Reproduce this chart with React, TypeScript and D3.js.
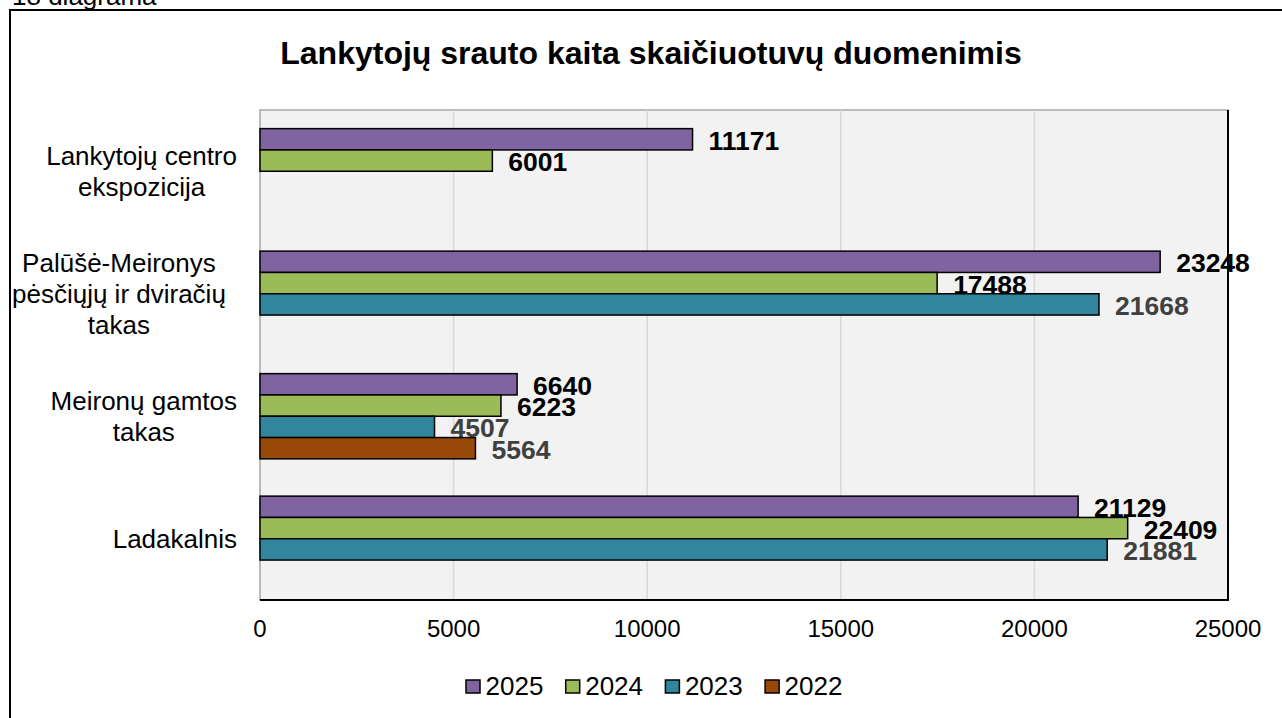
import React from "react";
import * as d3 from "d3";

const categories = [
  ["Lankytojų centro", "ekspozicija"],
  ["Palūšė-Meironys", "pėsčiųjų ir dviračių", "takas"],
  ["Meironų gamtos", "takas"],
  ["Ladakalnis"],
];
const seriesNames = ["2025", "2024", "2023", "2022"];
const values2025 = [11171, 23248, 6640, 21129];
const values2024 = [6001, 17488, 6223, 22409];
const values2023 = [null, 21668, 4507, 21881];
const values2022 = [null, null, 5564, null];
const seriesValues = [values2025, values2024, values2023, values2022];
const seriesColors = ["#8064a2", "#9bbb59", "#31859c", "#984807"];
const labelColors = ["#000000", "#000000", "#404040", "#404040"];
const xTicks = [0, 5000, 10000, 15000, 20000, 25000];
const title = "Lankytojų srauto kaita skaičiuotuvų duomenimis";
const caption = "18 diagrama";

const FONT = "'Liberation Sans', Arial, sans-serif";

function textWidth(t: string, font: string) {
  const c = document.createElement("canvas").getContext("2d")!;
  c.font = font;
  return c.measureText(t).width;
}

export default function App() {
  const W = 1282, H = 718;
  const plot = { left: 260, right: 1228, top: 110, bottom: 600 };
  const x = d3.scaleLinear().domain([0, 25000]).range([plot.left, plot.right]);
  const y = d3.scaleBand<number>().domain(d3.range(categories.length)).range([plot.top, plot.bottom]).padding(0);
  const yInner = d3.scaleBand<number>().domain(d3.range(seriesNames.length)).range([0, y.bandwidth()]).paddingInner(0).paddingOuter(0.875);
  const catFont = `26px ${FONT}`;
  const lineH = 31;

  return (
    <svg width={W} height={H} style={{ position: "absolute", left: 0, top: 0, background: "#fff" }} fontFamily={FONT}>
      <rect x={0} y={0} width={W} height={H} fill="#ffffff" />
      <text x={12} y={5} fontSize={26} fill="#000">{caption}</text>
      <rect x={10} y={10} width={1300} height={730} fill="#ffffff" stroke="#000" strokeWidth={2} />
      <text x={651} y={64} textAnchor="middle" fontSize={32} fontWeight="bold" fill="#000">{title}</text>

      <rect x={plot.left} y={plot.top} width={plot.right - plot.left} height={plot.bottom - plot.top} fill="#f2f2f2" stroke="#a6a6a6" strokeWidth={1.5} />
      {xTicks.slice(1, -1).map((t) => (
        <line key={t} x1={x(t)} x2={x(t)} y1={plot.top} y2={plot.bottom} stroke="#d9d9d9" strokeWidth={1.5} />
      ))}
      <line x1={plot.right} x2={plot.right} y1={plot.top} y2={plot.bottom + 1} stroke="#000" strokeWidth={2} />
      <line x1={plot.left} x2={plot.right + 1} y1={plot.bottom} y2={plot.bottom} stroke="#000" strokeWidth={2} />

      {categories.map((_, ci) =>
        seriesValues.map((vals, si) => {
          const v = vals[ci];
          if (v == null) return null;
          const by = y(ci)! + yInner(si)!;
          const bh = yInner.bandwidth();
          return (
            <g key={`${ci}-${si}`}>
              <rect x={x(0)} y={by} width={x(v) - x(0)} height={bh} fill={seriesColors[si]} stroke="#000" strokeWidth={1.5} />
              <text x={x(v) + 16} y={by + bh / 2 + 10.5} fontSize={26.5} fontWeight="bold" fill={labelColors[si]}>{v}</text>
            </g>
          );
        })
      )}

      {categories.map((lines, ci) => {
        const maxW = Math.max(...lines.map((l) => textWidth(l, catFont)));
        const cx = maxW > 200 ? 12 + maxW / 2 : 237 - maxW / 2;
        const center = y(ci)! + y.bandwidth() / 2;
        const first = center - ((lines.length - 1) / 2) * lineH + 9.3;
        return lines.map((l, li) => (
          <text key={`${ci}-${li}`} x={cx} y={first + li * lineH} textAnchor="middle" fontSize={26} fill="#000">{l}</text>
        ));
      })}

      {xTicks.map((t) => (
        <text key={t} x={x(t)} y={plot.bottom + 36.7} textAnchor="middle" fontSize={24} fill="#000">{t}</text>
      ))}

      {seriesNames.map((s, i) => {
        const lx = 466 + i * 99.7;
        return (
          <g key={s}>
            <rect x={lx} y={680} width={14} height={13} fill={seriesColors[i]} stroke="#000" strokeWidth={1.5} />
            <text x={lx + 19.5} y={695} fontSize={26} fill="#000">{s}</text>
          </g>
        );
      })}
    </svg>
  );
}
